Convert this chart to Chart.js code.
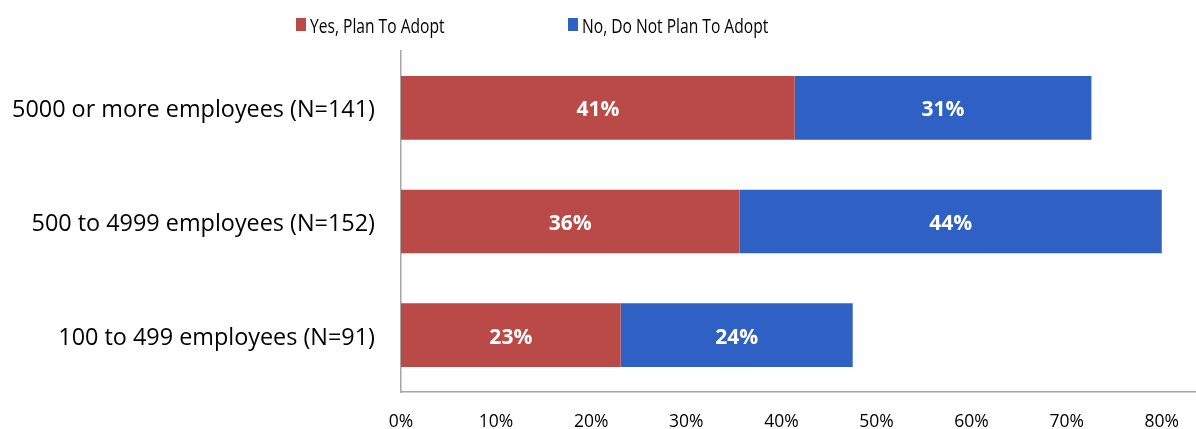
<!DOCTYPE html>
<html><head><meta charset="utf-8">
<script src="https://cdn.jsdelivr.net/npm/chart.js@4"></script>
<style>html,body{margin:0;padding:0;background:#fff}#wrap{width:1196px;height:429px;position:relative}</style>
</head><body><div id="wrap"><canvas id="c"></canvas></div>
<script>
const categories = ['5000 or more employees (N=141)', '500 to 4999 employees (N=152)', '100 to 499 employees (N=91)'];
const seriesNames = ['Yes, Plan To Adopt', 'No, Do Not Plan To Adopt'];
const yesValues = [41.4, 35.6, 23.1];
const noValues = [31.2, 44.4, 24.4];
const xTicks = [0, 10, 20, 30, 40, 50, 60, 70, 80];
const seriesColors = ['#B94A48', '#2F60C4'];

const FONT = "'Open Sans', 'Noto Sans', sans-serif";
const PAD_LEFT = 0;

function zeroPadding(s) {
  s.paddingLeft = 0; s.paddingRight = 0; s.paddingTop = 0; s.paddingBottom = 0;
}

const valueLabels = {
  id: 'valueLabels',
  afterDatasetsDraw(chart) {
    const ctx = chart.ctx;
    ctx.save();
    ctx.fillStyle = '#fff';
    ctx.font = "bold 21px " + FONT;
    ctx.textAlign = 'center';
    ctx.textBaseline = 'middle';
    chart.data.datasets.forEach((ds, i) => {
      const meta = chart.getDatasetMeta(i);
      meta.data.forEach((el, j) => {
        const v = ds.data[j];
        ctx.fillText(Math.round(v) + '%', (el.x + el.base) / 2, el.y + 2.5);
      });
    });
    ctx.restore();
  }
};

const customLegend = {
  id: 'customLegend',
  afterDraw(chart) {
    const ctx = chart.ctx;
    const starts = [296, 568];
    const condense = 0.78;
    ctx.save();
    ctx.font = "20px " + FONT;
    ctx.textBaseline = 'alphabetic';
    ctx.textAlign = 'left';
    chart.data.datasets.forEach((ds, i) => {
      const x = starts[i];
      ctx.fillStyle = ds.backgroundColor;
      ctx.fillRect(x, 18, 10, 13);
      ctx.fillStyle = '#000';
      ctx.save();
      ctx.translate(x + 14, 33);
      ctx.scale(condense, 1);
      ctx.fillText(ds.label, 0, 0);
      ctx.restore();
    });
    ctx.restore();
  }
};

new Chart(document.getElementById('c'), {
  type: 'bar',
  data: {
    labels: categories,
    datasets: [
      { label: seriesNames[0], data: yesValues, backgroundColor: seriesColors[0], borderWidth: 0 },
      { label: seriesNames[1], data: noValues, backgroundColor: seriesColors[1], borderWidth: 0 }
    ]
  },
  options: {
    indexAxis: 'y',
    responsive: true,
    maintainAspectRatio: false,
    animation: false,
    layout: { padding: { top: 51, left: PAD_LEFT, right: 0, bottom: 0 } },
    datasets: { bar: { categoryPercentage: 1, barPercentage: 0.56 } },
    plugins: { legend: { display: false }, tooltip: { enabled: false } },
    scales: {
      x: {
        stacked: true,
        min: 0,
        max: 83.6,
        grid: { display: false, drawTicks: false },
        border: { display: true, color: '#A6A6A6', width: 1.5 },
        ticks: {
          includeBounds: false,
          color: '#000',
          font: { family: FONT, size: 17.5 },
          padding: 20,
          maxRotation: 0,
          autoSkip: false,
          callback: v => v + '%'
        },
        afterBuildTicks: s => { s.ticks = xTicks.map(v => ({ value: v })); },
        afterFit: s => { s.height = 37; zeroPadding(s); }
      },
      y: {
        stacked: true,
        grid: { display: false, drawTicks: false },
        border: { display: true, color: '#A6A6A6', width: 1.5 },
        ticks: {
          color: '#000',
          font: { family: FONT, size: 23.4 },
          padding: 26,
          labelOffset: 3
        },
        afterFit: s => { s.width = 401 - PAD_LEFT; zeroPadding(s); }
      }
    }
  },
  plugins: [valueLabels, customLegend]
});
</script>
</body></html>
